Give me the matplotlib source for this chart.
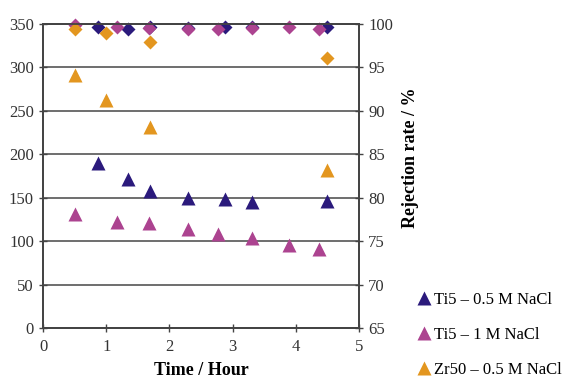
import matplotlib.pyplot as plt
from matplotlib.lines import Line2D

plt.rcParams['font.family'] = ['Liberation Serif', 'DejaVu Serif']

# triangles: left axis
ti5_05_t = [0.87, 1.35, 1.69, 2.29, 2.88, 3.31, 4.49]
ti5_05_flux = [190, 172, 158, 150, 148, 145, 146]
ti5_1_t = [0.50, 1.17, 1.68, 2.30, 2.77, 3.31, 3.89, 4.36]
ti5_1_flux = [131, 122, 121, 114, 108, 104, 95, 91]
zr50_t = [0.50, 1.00, 1.69, 4.50]
zr50_flux = [291, 263, 231, 182]

# diamonds: right axis (rejection %)
ti5_05_rej = [99.7, 99.4, 99.7, 99.5, 99.7, 99.6, 99.7]
ti5_1_rej = [99.9, 99.6, 99.5, 99.4, 99.4, 99.5, 99.6, 99.4]
zr50_rej = [99.4, 99.0, 97.9, 96.1]

labels = ['Ti5 \u2013 0.5 M NaCl', 'Ti5 \u2013 1 M NaCl', 'Zr50 \u2013 0.5 M NaCl']
colors = ['#2b1a7c', '#ac4390', '#e3961f']

fig = plt.figure(figsize=(5.66, 3.79), dpi=100)
ax = fig.add_axes([43 / 566, 51 / 379, 316 / 566, 304 / 379])
ax2 = ax.twinx()

ax.set_xlim(0, 5)
ax.set_ylim(0, 350)
ax2.set_ylim(65, 100)
ax.set_xticks(range(6))
ax.set_yticks(range(0, 351, 50))
ax2.set_yticks(range(65, 101, 5))
ax.grid(axis='y', color='#555555', lw=1.2)

for a in (ax, ax2):
    for s in a.spines.values():
        s.set_color('#444444')
        s.set_linewidth(1.3)
    a.tick_params(labelsize=12, direction='inout', length=6, width=1, colors='#444444', labelcolor='#333333')
ax.tick_params(axis='x', pad=5)

series = [(ti5_05_t, ti5_05_flux, ti5_05_rej), (ti5_1_t, ti5_1_flux, ti5_1_rej), (zr50_t, zr50_flux, zr50_rej)]
for (t, flux, rej), c in zip(series, colors):
    ax.plot(t, flux, '^', color=c, ms=9.5, mec='none', clip_on=False)
    ax2.plot(t, rej, 'D', color=c, ms=7, mec='none', clip_on=False)

ax.set_xlabel('Time / Hour', fontsize=13, fontweight='bold', labelpad=5)
ax2.set_ylabel('Rejection rate / %', fontsize=13, fontweight='bold')
ax2.yaxis.set_label_coords(1.136, 0.56)

handles = [Line2D([], [], ls='none', marker='^', color=c, ms=9.5, mec='none') for c in colors]
fig.legend(handles, labels, loc='lower left', bbox_to_anchor=(404 / 566, -0.037), frameon=False,
           fontsize=12, handlelength=0.6, handletextpad=0.3, labelspacing=1.15)

fig.savefig('out.png', dpi=100)
